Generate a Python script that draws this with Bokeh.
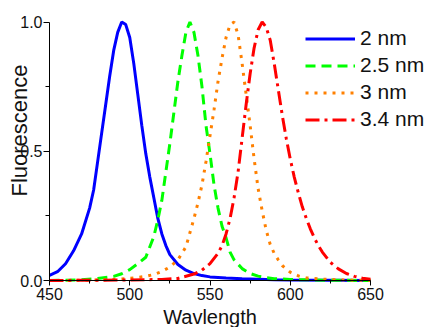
import math

from bokeh.embed import file_html
from bokeh.models import ColumnDataSource, FixedTicker, Label, PrintfTickFormatter, Range1d
from bokeh.plotting import figure
from bokeh.resources import INLINE

# Normalised fluorescence spectra for four particle sizes
wl_2nm = [450, 455, 460, 465, 470, 475, 477.5, 480, 482.5, 485, 487.5, 490, 492.5, 495,
          497.5, 500, 502.5, 505, 507.5, 510, 512.5, 515, 517.5, 520, 522.5, 525, 530,
          535, 540, 545, 550, 560, 570, 580, 590, 600, 625, 650]
fl_2nm = [0.020, 0.034, 0.065, 0.115, 0.18, 0.28, 0.35, 0.46, 0.57, 0.68, 0.79, 0.89, 0.96, 1.0,
          0.99, 0.94, 0.84, 0.72, 0.60, 0.49, 0.40, 0.32, 0.24, 0.18, 0.135, 0.10, 0.062,
          0.040, 0.027, 0.019, 0.014, 0.010, 0.007, 0.005, 0.003, 0.002, 0.001, 0.0]

wl_2p5nm = [450, 460, 470, 480, 490, 495, 500, 505, 510, 515, 517.5, 520, 522.5, 525, 527.5,
            530, 532.5, 535, 537.5, 540, 542.5, 545, 547.5, 550, 552.5, 555, 557.5, 560,
            562.5, 565, 570, 575, 580, 585, 590, 600, 625, 650]
fl_2p5nm = [0.0, 0.001, 0.003, 0.008, 0.016, 0.026, 0.042, 0.065, 0.09, 0.17, 0.235, 0.31, 0.42,
            0.53, 0.65, 0.77, 0.87, 0.96, 1.0, 0.96, 0.87, 0.75, 0.60, 0.49, 0.37, 0.28, 0.21,
            0.165, 0.11, 0.08, 0.046, 0.027, 0.017, 0.011, 0.007, 0.004, 0.001, 0.0]

wl_3nm = [450, 460, 480, 490, 500, 505, 510, 515, 520, 525, 530, 535, 540, 542.5, 545, 547.5,
          550, 552.5, 555, 557.5, 560, 562.5, 565, 567.5, 570, 572.5, 575, 577.5, 580, 582.5,
          585, 587.5, 590, 592.5, 595, 600, 605, 610, 620, 635, 650]
fl_3nm = [0.0, 0.0, 0.002, 0.004, 0.008, 0.012, 0.016, 0.023, 0.035, 0.052, 0.08, 0.13, 0.24,
          0.30, 0.37, 0.46, 0.56, 0.66, 0.77, 0.86, 0.94, 0.99, 1.0, 0.95, 0.84, 0.72, 0.60,
          0.47, 0.355, 0.27, 0.195, 0.14, 0.105, 0.08, 0.058, 0.032, 0.018, 0.010, 0.005, 0.002,
          0.0]

wl_3p4nm = [450, 500, 520, 530, 540, 545, 550, 555, 557.5, 560, 562.5, 565, 567.5, 570, 572.5,
            575, 577.5, 580, 582.5, 585, 587.5, 590, 592.5, 595, 597.5, 600, 602.5, 605,
            607.5, 610, 612.5, 615, 617.5, 620, 625, 630, 635, 640, 645, 650]
fl_3p4nm = [0.0, 0.002, 0.004, 0.008, 0.025, 0.04, 0.065, 0.105, 0.135, 0.18, 0.24, 0.32, 0.42,
            0.55, 0.68, 0.80, 0.90, 0.97, 1.0, 0.98, 0.93, 0.84, 0.74, 0.64, 0.55, 0.47, 0.40,
            0.34, 0.285, 0.24, 0.20, 0.165, 0.135, 0.11, 0.07, 0.045, 0.027, 0.016, 0.009,
            0.005]

series_labels = ["2 nm", "2.5 nm", "3 nm", "3.4 nm"]
x_ticks = [450, 500, 550, 600, 650]
x_minor = [475, 525, 575, 625]
y_ticks = [0.0, 0.5, 1.0]
y_minor = [0.25, 0.75]

FONT = "Liberation Sans"
W, H = 430, 327
# pixel geometry of the data area inside the canvas
X0_PX, X1_PX = 49, 370      # 450 nm .. 650 nm
Y1_PX, Y0_PX = 21.5, 280    # 1.0 .. 0.0
kx = (X1_PX - X0_PX) / 200.0
ky = (Y0_PX - Y1_PX) / 1.0

x_range = Range1d(450 - X0_PX / kx, 650 + (W - X1_PX) / kx)
y_range = Range1d(-(H - Y0_PX) / ky, 1.0 + Y1_PX / ky)

p = figure(width=W, height=H, output_backend="svg", toolbar_location=None,
           x_range=x_range, y_range=y_range,
           min_border_left=0, min_border_right=0, min_border_top=0, min_border_bottom=0)
p.outline_line_color = None
p.grid.visible = False
p.background_fill_color = "white"
p.border_fill_color = "white"

styles = [
    dict(color="#0000FF", dash="solid"),
    dict(color="#00FF00", dash="10 6"),
    dict(color="#FF8000", dash="3 6"),
    dict(color="#FF0000", dash="14 5 3 5"),
]
data = [(wl_2nm, fl_2nm), (wl_2p5nm, fl_2p5nm), (wl_3nm, fl_3nm), (wl_3p4nm, fl_3p4nm)]
for (wl, fl), label, st in zip(data, series_labels, styles):
    src = ColumnDataSource(dict(x=wl, y=fl))
    p.line("x", "y", source=src, line_color=st["color"], line_width=3,
           line_dash=st["dash"], legend_label=label)

# axes pinned to the data origin
p.xaxis.fixed_location = 0
p.yaxis.fixed_location = 450
p.xaxis.ticker = FixedTicker(ticks=x_ticks, minor_ticks=x_minor)
p.yaxis.ticker = FixedTicker(ticks=y_ticks, minor_ticks=y_minor)
p.yaxis.formatter = PrintfTickFormatter(format="%.1f")
p.xaxis.bounds = (450, 650)
p.yaxis.bounds = (0, 1)
for ax in (p.xaxis, p.yaxis):
    ax.axis_line_color = "black"
    ax.axis_line_width = 1
    ax.major_tick_line_color = "black"
    ax.minor_tick_line_color = "black"
    ax.major_tick_in = 0
    ax.minor_tick_in = 0
    ax.major_label_text_font = FONT
    ax.major_label_text_font_size = "16px"
    ax.major_label_text_color = "#111111"
p.xaxis.major_tick_out = 5
p.xaxis.minor_tick_out = 3
p.xaxis.major_label_standoff = 2
p.yaxis.major_tick_out = 6
p.yaxis.minor_tick_out = 4
p.yaxis.major_label_standoff = 1

# axis titles
p.add_layout(Label(x=450 - (X0_PX - 18.5) / kx, y=(Y0_PX - 130) / ky, text="Fluorescence",
                   angle=math.pi / 2, text_align="center", text_baseline="middle",
                   text_font=FONT, text_font_size="22px", text_color="#111111"))
p.add_layout(Label(x=550, y=-(316.3 - Y0_PX) / ky, text="Wavlength",
                   text_align="center", text_baseline="alphabetic",
                   text_font=FONT, text_font_size="20px", text_color="#111111"))

lg = p.legend[0]
lg.location = (305, H - 132.5)
lg.glyph_width = 50
lg.glyph_height = 27
lg.label_height = 27
lg.spacing = 0
lg.padding = 0
lg.margin = 0
lg.label_standoff = 5
lg.border_line_color = None
lg.background_fill_alpha = 0
lg.label_text_font = FONT
lg.label_text_font_size = "21px"
lg.label_text_color = "#111111"

open("out.html", "w").write(file_html(p, INLINE))
